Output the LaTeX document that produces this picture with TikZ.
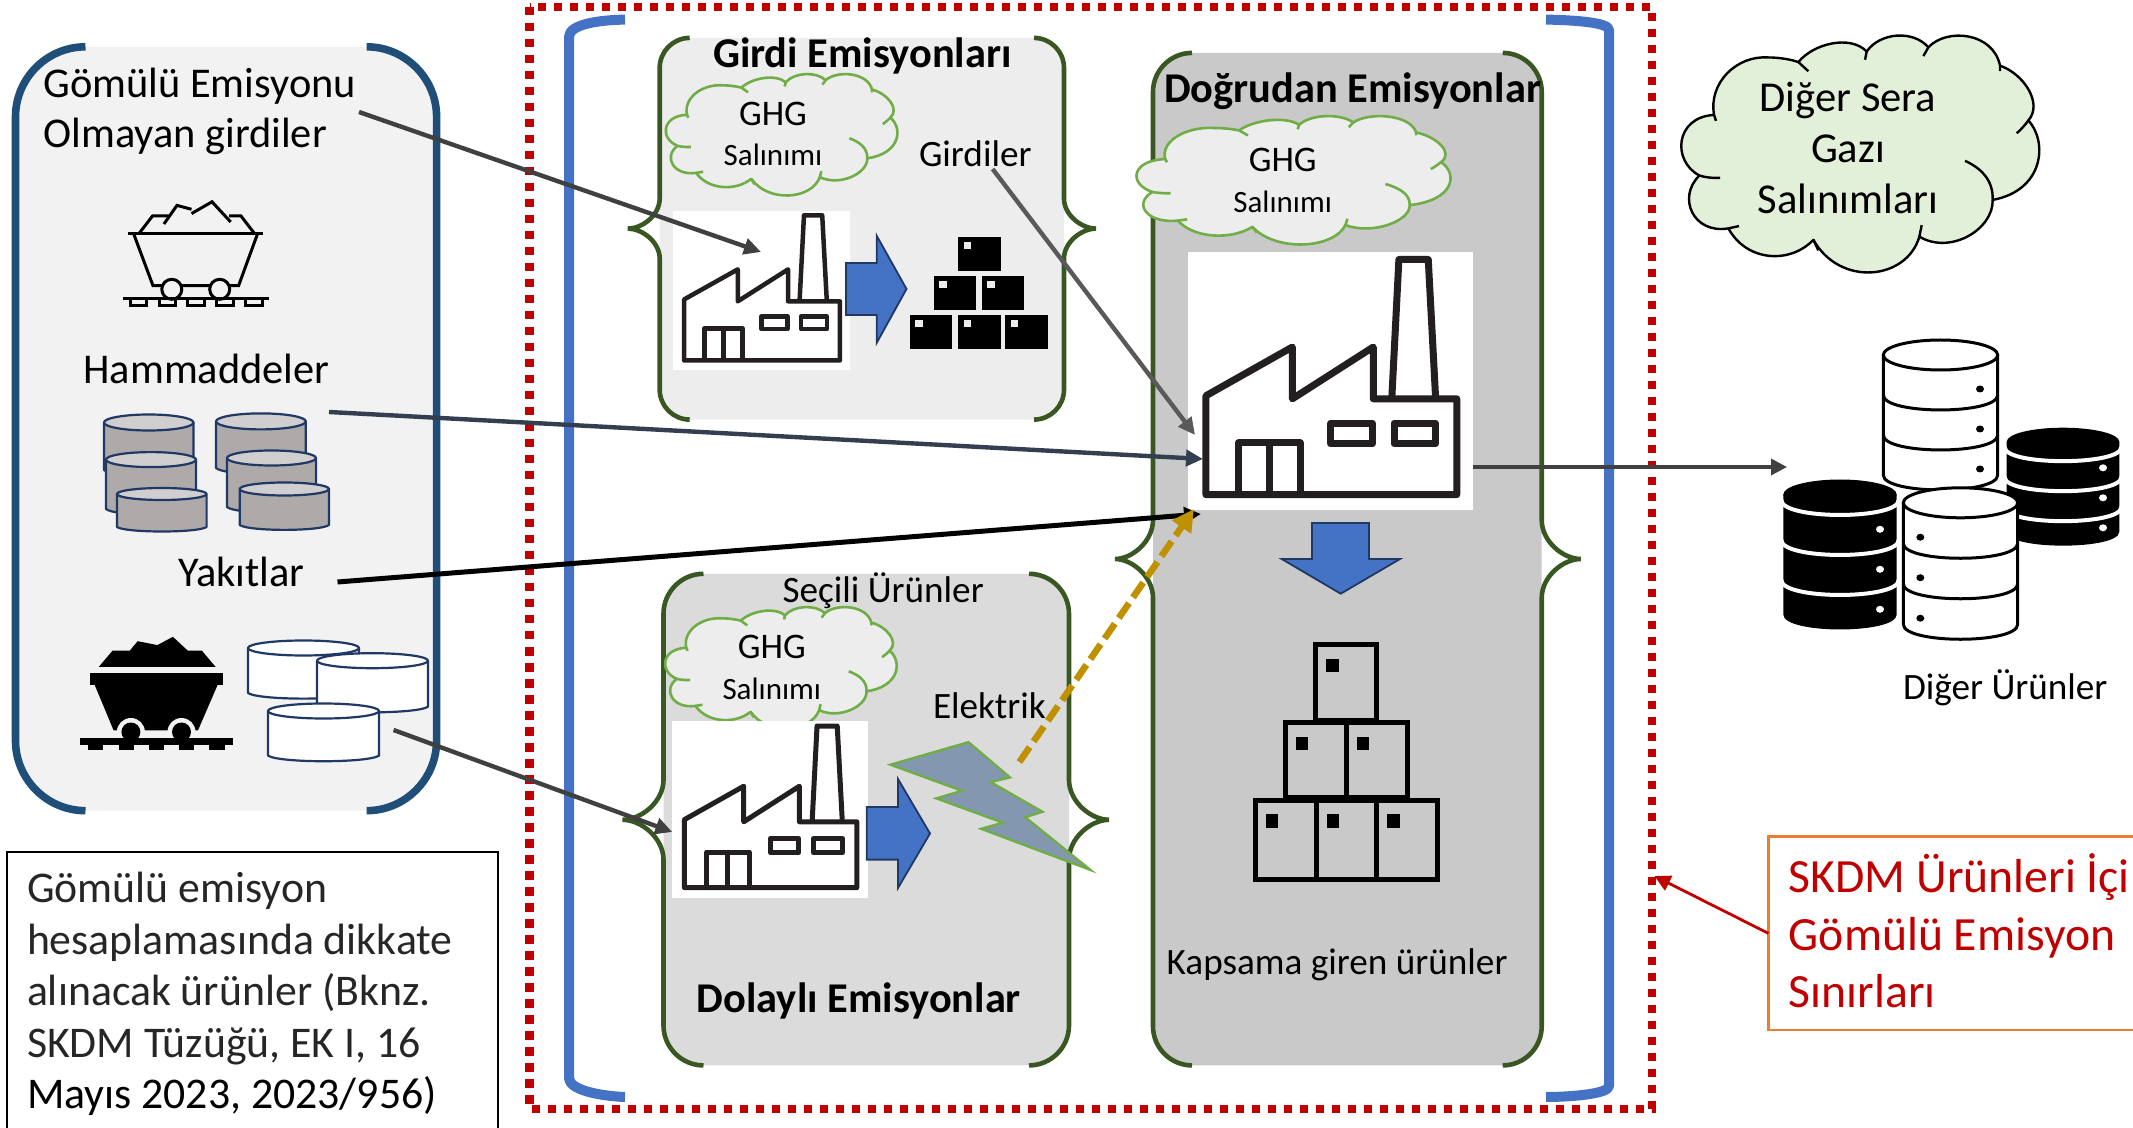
\documentclass[tikz,border=0pt]{standalone}
\usepackage{fontspec}
\setmainfont{Carlito}
\usetikzlibrary{arrows.meta}
\definecolor{navy}{HTML}{1F4E79}
\definecolor{cylline}{HTML}{1F3864}
\definecolor{bluebr}{HTML}{4472C4}
\definecolor{redb}{HTML}{C00000}
\definecolor{greenb}{HTML}{385723}
\definecolor{cloudg}{HTML}{70AD47}
\definecolor{factline}{HTML}{231F20}
\definecolor{gold}{HTML}{BF9000}
\definecolor{slateline}{HTML}{333F50}
\definecolor{boxtext}{HTML}{262626}
\definecolor{panelA}{HTML}{F2F2F2}
\definecolor{panelB}{HTML}{EDEDED}
\definecolor{panelC}{HTML}{DBDBDB}
\definecolor{panelD}{HTML}{C9C9C9}
\definecolor{cylside}{HTML}{AEAAAA}
\definecolor{cyltop}{HTML}{D0CECE}
\definecolor{boltfill}{HTML}{8497B0}
\definecolor{cloudpale}{HTML}{E2F0D9}
\definecolor{orangeb}{HTML}{ED7D31}
\definecolor{arrdark}{HTML}{404040}
\definecolor{arrmid}{HTML}{595959}
\tikzset{
  lab/.style={inner sep=0,outer sep=0,anchor=base west,yshift=-0.8pt},
  cen/.style={inner sep=0,outer sep=0,anchor=base,yshift=-0.8pt},
  fbig/.style={font=\fontsize{21.2}{25}\selectfont},
  fmed/.style={font=\fontsize{18.6}{22}\selectfont},
  fghg/.style={font=\fontsize{18}{22}\selectfont},
  fsal/.style={font=\fontsize{15.5}{19}\selectfont},
  ftitle/.style={font=\fontsize{21.2}{26}\selectfont\bfseries},
  cylshape/.style={draw=cylline,fill=#1,line width=1.1pt,line join=round},
  factory/.style={draw=factline,line join=round},
  blockarrow/.style={fill=bluebr,draw=cylline,line width=.9pt,line join=miter},
  bolt/.style={fill=boltfill,draw=cloudg,line width=1.2pt,line join=miter},
  arrbase/.style={-{Triangle[length=8.5pt,width=8pt]},line width=2.2pt},
  arrthin/.style={-{Triangle[length=8pt,width=8pt]},line width=1.8pt},
  arrgold/.style={-{Triangle[length=11pt,width=11pt]},line width=3.3pt,dash pattern=on 9pt off 3.5pt,draw=gold},
  dbline/.style={draw=black,line width=1.5pt,fill=white,line join=round}
}
\newcommand\panelpen{draw=greenb,line width=2.3pt,line join=bevel}
\newcommand\bracepanel[9]{%
  \fill[#1,rounded corners={#6*0.5pt}] (#2,#3) rectangle (#4,#5);
  \expandafter\draw\expandafter[\panelpen]
    ({#2+#6},#3) .. controls ({#2+.45*#6},#3) and (#2,{#3+.45*#6}) .. (#2,{#3+#6})
    -- (#2,{#7-#6}) .. controls (#2,{#7-.45*#6}) and ({#8+.45*(#2-#8)},#7) .. (#8,#7)
    .. controls ({#8+.45*(#2-#8)},#7) and (#2,{#7+.45*#6}) .. (#2,{#7+#6})
    -- (#2,{#5-#6}) .. controls (#2,{#5-.45*#6}) and ({#2+.45*#6},#5) .. ({#2+#6},#5);
  \expandafter\draw\expandafter[\panelpen]
    ({#4-#6},#3) .. controls ({#4-.45*#6},#3) and (#4,{#3+.45*#6}) .. (#4,{#3+#6})
    -- (#4,{#7-#6}) .. controls (#4,{#7-.45*#6}) and ({#9+.45*(#4-#9)},#7) .. (#9,#7)
    .. controls ({#9+.45*(#4-#9)},#7) and (#4,{#7+.45*#6}) .. (#4,{#7+#6})
    -- (#4,{#5-#6}) .. controls (#4,{#5-.45*#6}) and ({#4-.45*#6},#5) .. ({#4-#6},#5);
}
\newcommand\factoryicon[6]{%
  \node[fill=white,inner sep=0,outer sep=0,anchor=north west,minimum width={#4*0.5pt},minimum height={#5*0.5pt}] (#1) at (#2,#3) {};
  \begin{scope}[shift={(#2,#3)},xscale=#4,yscale=#5,factory,line width={#6*0.5pt}]
    \draw (.063,.942) -- (.063,.558) -- (.366,.369) -- (.366,.570) -- (.650,.369) -- (.650,.570) -- (.943,.570) -- (.943,.942) -- cycle;
    \draw (.715,.570) -- (.740,.029) -- (.843,.029) -- (.869,.570);
    \draw (.177,.942) -- (.177,.741) -- (.393,.741) -- (.393,.942);
    \draw (.285,.741) -- (.285,.942);
    \draw (.501,.664) rectangle (.647,.745);
    \draw (.723,.664) rectangle (.869,.745);
  \end{scope}
}
\newcommand\cloudicon[7]{%
  \begin{scope}[shift={(#4,#5)},xscale={#6/1083},yscale={#7/518},shift={(-122,-77)}]
    \draw[fill=#1,draw=#2,line width=#3,line join=round]
     (222,250) .. controls (205,180) and (290,120) .. (385,125)
     .. controls (420,125) and (455,130) .. (475,135)
     .. controls (520,95) and (630,75) .. (680,112)
     .. controls (720,70) and (820,65) .. (865,103)
     .. controls (920,60) and (1060,70) .. (1080,143)
     .. controls (1150,160) and (1210,225) .. (1165,262)
     .. controls (1225,310) and (1210,415) .. (1058,435)
     .. controls (1060,500) and (930,555) .. (838,515)
     .. controls (800,610) and (600,625) .. (520,522)
     .. controls (450,575) and (320,570) .. (265,497)
     .. controls (160,510) and (110,430) .. (178,382)
     .. controls (95,350) and (105,255) .. (222,250) -- cycle;
    \draw[draw=#2,line width=#3]
     (222,250) -- (228,263)
     (475,135) -- (505,155)
     (680,112) -- (675,130)
     (865,103) -- (850,122)
     (1080,143) -- (1080,155)
     (1165,262) .. controls (1155,272) and (1143,282) .. (1130,290)
     (1058,435) .. controls (1060,390) and (1020,365) .. (975,350)
     (838,515) -- (845,490)
     (520,522) -- (535,545)
     (265,497) -- (297,492)
     (178,382) .. controls (195,386) and (218,388) .. (240,387);
  \end{scope}
}
\newcommand\cylicon[7]{%
  \draw[cylshape=#6] (#1,#3) -- (#1,#5) .. controls ({#1+.1*(#2-#1)},{#5+#4}) and ({#2-.1*(#2-#1)},{#5+#4}) .. (#2,#5) -- (#2,#3) -- cycle;
  \draw[cylshape=#7] ({(#1+#2)/2},#3) ellipse [x radius={(#2-#1)/2},y radius=#4];
}
\newcommand\dbwhite[6]{%
  \draw[dbline] (#1,#3) -- (#1,{#3+3*#5}) .. controls (#1,{#3+3*#5+1.33*#4}) and (#2,{#3+3*#5+1.33*#4}) .. (#2,{#3+3*#5}) -- (#2,#3) -- cycle;
  \draw[dbline] ({(#1+#2)/2},#3) ellipse [x radius={(#2-#1)/2},y radius=#4];
  \draw[dbline,fill=none] (#1,{#3+#5}) .. controls (#1,{#3+#5+1.33*#4}) and (#2,{#3+#5+1.33*#4}) .. (#2,{#3+#5});
  \draw[dbline,fill=none] (#1,{#3+2*#5}) .. controls (#1,{#3+2*#5+1.33*#4}) and (#2,{#3+2*#5+1.33*#4}) .. (#2,{#3+2*#5});
  \foreach \k in {0,1,2} \fill[black] (#6,{#3+(.85+\k)*#5}) ellipse [x radius=4,y radius=3.5];
}
\newcommand\dbblack[6]{%
  \fill[black] (#1,#3) -- (#1,{#3+3*#5}) .. controls (#1,{#3+3*#5+1.33*#4}) and (#2,{#3+3*#5+1.33*#4}) .. (#2,{#3+3*#5}) -- (#2,#3) -- cycle;
  \fill[black] ({(#1+#2)/2},#3) ellipse [x radius={(#2-#1)/2},y radius=#4];
  \foreach \k in {0,1,2} {
    \draw[white,line width=2pt] ({#1-2},{#3+5.5+\k*#5}) .. controls ({#1-2},{#3+5.5+\k*#5+1.33*#4}) and ({#2+2},{#3+5.5+\k*#5+1.33*#4}) .. ({#2+2},{#3+5.5+\k*#5});
    \fill[white] (#6,{#3+(.87+\k)*#5}) ellipse [x radius=4,y radius=3.5];
  }
}
\newcommand\solidbox[2]{%
  \fill[black] (#1,#2) rectangle ({#1+42.5},{#2+34.4});
  \fill[panelB] ({#1+5.5},{#2+5}) rectangle ({#1+13},{#2+12});
}
\newcommand\openbox[4]{%
  \draw[black,line width=2.5pt,line join=miter] (#1,#2) rectangle (#3,#4);
  \fill[black] ({#1+10.5},{#2+14}) rectangle ({#1+23},{#2+27.5});
}
\begin{document}
\begin{tikzpicture}[x=0.5pt,y=-0.5pt]
\useasboundingbox (0,0) rectangle (2133,1128);

\coordinate (a1s) at (359,112);   \coordinate (a1e) at (761,252);
\coordinate (a2s) at (329,412);   \coordinate (a2e) at (1203,459);
\coordinate (a3s) at (337.5,582); \coordinate (a3e) at (1201,514);
\coordinate (a4s) at (393.6,730); \coordinate (a4e) at (672.3,832);
\coordinate (a5s) at (992.6,169); \coordinate (a5e) at (1195,435);
\coordinate (a6s) at (1019.4,762);\coordinate (a6e) at (1194,509);
\coordinate (a7s) at (1472.7,467);\coordinate (a7e) at (1787,467);
\coordinate (a8e) at (1654.4,876);

% left panel
\renewcommand\panelpen{draw=navy,line width=3.8pt}
\bracepanel{panelA}{15.5}{46.8}{436.6}{810.7}{70}{430}{15.5}{436.6}
\node[lab,align=left,font=\fontsize{21.2}{25}\selectfont] (nonemb) at (43.5,146) {Gömülü Emisyonu\\Olmayan girdiler};
\node[lab,fbig] (raw) at (83.5,382) {Hammaddeler};
\node[lab,fbig] (fuel) at (178.5,585) {Yakıtlar};

% outline mine cart
\begin{scope}[black,line width=1.5pt,line join=miter]
  \draw (128.4,233.6) -- (263.4,233.6);
  \draw (133.6,233.6) -- (153,285.7) -- (238.6,285.7) -- (257.6,233.6);
  \draw (139.5,232.9) -- (152.5,216) -- (168.7,216);
  \draw (163.9,224) -- (177,205.4) -- (191.5,209.3);
  \draw (191.5,213.6) -- (212,201.8) -- (230.7,222);
  \draw (229,216) -- (241,216) -- (254,232.9);
  \draw[fill=panelA] (171.8,289.3) circle [radius=10];
  \draw[fill=panelA] (219.7,289.3) circle [radius=10];
  \draw (123.3,298.6) -- (268.6,298.6);
  \foreach \u/\v in {130/146,159/175.6,187.7/204,216.6/233,245/262.4}
    \draw (\u,298.6) -- (\u,305.7) -- (\v,305.7) -- (\v,298.6);
\end{scope}

% gray cylinders
\cylicon{104}{193.5}{422.5}{8}{470}{cylside}{cyltop}
\cylicon{216}{305.8}{421.4}{8}{468}{cylside}{cyltop}
\cylicon{106}{196}{459.6}{7.5}{509}{cylside}{cyltop}
\cylicon{227}{316}{458}{7.5}{507}{cylside}{cyltop}
\cylicon{117}{206.6}{494}{6}{527}{cylside}{cyltop}
\cylicon{239.7}{329}{489}{6.5}{525}{cylside}{cyltop}

% solid mine cart
\fill[black] (98.8,666.9) -- (112.6,650.6) -- (129.8,650.6) -- (137.7,641.2) -- (157.4,645.1) -- (172.9,636.8) -- (187.7,650.6) -- (201.8,650.6) -- (215.6,666.9) -- cycle;
\fill[black] (89.5,673.4) rectangle (223,685);
\fill[black] (94.7,685) -- (113.6,730.3) -- (198,730.3) -- (217.6,685) -- cycle;
\fill[panelA] (130.9,732) circle [radius=14];
\fill[panelA] (181.5,732) circle [radius=14];
\fill[black] (130.9,732) circle [radius=9.5];
\fill[black] (181.5,732) circle [radius=9.5];
\fill[black] (80,737.5) rectangle (233,744.8);
\foreach \u/\v in {88/103,118.5/133.6,148.8/164,179/194,209/224.5}
  \fill[black] (\u,744.8) rectangle (\v,750);

% white cylinders
\cylicon{248}{359}{648}{7.5}{693}{white}{white}
\cylicon{317}{428}{660.7}{7.5}{706.7}{white}{white}
\cylicon{268}{379}{711}{7.5}{755.6}{white}{white}

% note box
\node[draw=black,line width=1.1pt,inner sep=0,outer sep=0,anchor=north west,minimum width={491*0.5pt},minimum height={300*0.5pt}] (notebox) at (7,851.7) {};
\node[lab,align=left,text=boxtext,font=\fontsize{21.9}{25.75}\selectfont] (notetext) at (27,1107)
  {Gömülü emisyon\\hesaplamasında dikkate\\alınacak ürünler (Bknz.\\SKDM Tüzüğü, EK I, 16\\\textcolor{black}{Mayıs 2023, 2023/956)}};

% red dotted boundary
\draw[redb,line width=4.3pt,dash pattern=on 4.25pt off 3.75pt] (529.6,7) rectangle (1652,1109);

% blue brackets
\draw[bluebr,line width=5pt,line join=round] (625,19.6) .. controls (600,20) and (569,24) .. (569,37) -- (569,1078) .. controls (569,1090) and (600,1096) .. (625,1097);
\draw[bluebr,line width=5pt,line join=round] (1546,19.6) .. controls (1570,20) and (1609,22) .. (1609,30) -- (1609,1086) .. controls (1609,1094) and (1570,1097) .. (1546,1097);

% panels
\renewcommand\panelpen{draw=greenb,line width=2.3pt,line join=bevel}
\bracepanel{panelB}{659.7}{37.9}{1064}{419.6}{30}{228.6}{628}{1096}
\bracepanel{panelC}{663.5}{573.8}{1069}{1065.4}{40}{819.8}{622.6}{1109}
\bracepanel{panelD}{1153}{52.9}{1541.7}{1065.4}{39}{559}{1115}{1580.7}

% Girdi panel content
\node[lab,ftitle] (t1) at (713,66) {Girdi Emisyonları};
\cloudicon{panelB}{cloudg}{1.3pt}{665.4}{74}{233.6}{122}
\node[cen,fghg] (ghg1) at (773,124) {GHG};
\node[cen,fsal] (sal1) at (773,164) {Salınımı};
\node[lab,fmed] (inputs) at (919,165) {Girdiler};
\factoryicon{fac1}{673}{210.7}{177}{159}{4.5}
\draw[blockarrow] (846,263) -- (876.7,263) -- (876.7,235.7) -- (906.5,289) -- (876.7,342.9) -- (876.7,315) -- (846,315) -- cycle;
\solidbox{958.2}{236.8}
\solidbox{933.7}{275.7}
\solidbox{981.9}{275.7}
\solidbox{909.6}{314.6}
\solidbox{958.2}{314.6}
\solidbox{1005}{314.6}

% Dolayli panel content
\node[lab,fmed] (sel) at (782.5,600.6) {Seçili Ürünler};
\cloudicon{panelB}{cloudg}{1.3pt}{664.7}{607}{233.6}{122}
\node[cen,fghg] (ghg2) at (771.8,657) {GHG};
\node[cen,fsal] (sal2) at (771.8,697.7) {Salınımı};
\node[lab,fmed] (elec) at (933,717) {Elektrik};
\factoryicon{fac2}{672}{720.9}{196}{177}{5}
\draw[blockarrow] (866.7,807) -- (898,807) -- (898,779) -- (930,833.5) -- (898,888) -- (898,859.6) -- (866.7,859.6) -- cycle;
\draw[bolt] (890.5,764.7) -- (968.5,742.2) -- (1009.9,777.4) -- (990.7,782.1) -- (1042.4,811.8) -- (1025.2,817.2) -- (1090.2,869.8) -- (981.2,828.8) -- (1003,822.7) -- (936.4,798.4) -- (962,790.8) -- cycle;
\node[lab,ftitle] (t2) at (696.8,1011) {Dolaylı Emisyonlar};

% Dogrudan panel content
\node[lab,ftitle] (t3) at (1164,101) {Doğrudan Emisyonlar};
\cloudicon{panelB}{cloudg}{1.3pt}{1136}{116}{316.7}{129}
\node[cen,fghg] (ghg3) at (1282.7,169.6) {GHG};
\node[cen,fsal] (sal3) at (1282.7,210.7) {Salınımı};
\factoryicon{fac3}{1188}{252}{285}{257.6}{7}
\draw[blockarrow] (1312,523) -- (1369,523) -- (1369,559) -- (1400,559) -- (1340.7,593.7) -- (1281.7,559) -- (1312,559) -- cycle;
\openbox{1315.5}{645}{1376.5}{720}
\openbox{1285}{722.5}{1346}{797.5}
\openbox{1346}{722.5}{1407}{797.5}
\openbox{1255}{800}{1316}{879}
\openbox{1316}{800}{1376.5}{879}
\openbox{1376.5}{800}{1437}{879}
\node[lab,fmed] (scope) at (1166.7,973) {Kapsama giren ürünler};

% right side
\cloudicon{cloudpale}{black}{1.2pt}{1680.7}{35.4}{361}{238}
\node[cen,align=center,font=\fontsize{21.3}{25.5}\selectfont] (oth) at (1848,212) {Diğer Sera\\Gazı\\Salınımları};

\dbwhite{1883.3}{1997.7}{355}{15}{40}{1980}
\dbblack{2006.7}{2119.3}{441.7}{14}{30}{2103}
\dbwhite{1903.3}{2017.7}{502.8}{15}{40.5}{1920.3}
\dbblack{1783.3}{1896.7}{494.5}{15}{40}{1880}
\node[lab,fmed] (others) at (1903,698) {Diğer Ürünler};

\node[draw=orangeb,line width=1.3pt,inner sep=0,outer sep=0,anchor=north west,minimum width={380*0.5pt},minimum height={193.3*0.5pt}] (redbox) at (1768.4,836.7) {};
\node[lab,align=left,text=redb,font=\fontsize{23.85}{28.75}\selectfont] (redtext) at (1788.8,1006) {SKDM Ürünleri İçi\\Gömülü Emisyon\\Sınırları};

% connectors
\draw[arrbase,draw=arrdark] (a1s) -- (a1e);
\draw[arrbase,draw=slateline] (a2s) -- (a2e);
\draw[arrbase,draw=black,line width=2.5pt] (a3s) -- (a3e);
\draw[arrbase,draw=arrdark] (a4s) -- (a4e);
\draw[arrbase,draw=arrmid] (a5s) -- (a5e);
\draw[arrthin,draw=arrdark] (a7s) -- (a7e);
\draw[arrthin,draw=redb,line width=1.4pt] (redbox.west) -- (a8e);
\draw[arrgold] (a6s) -- (a6e);
\end{tikzpicture}
\end{document}
